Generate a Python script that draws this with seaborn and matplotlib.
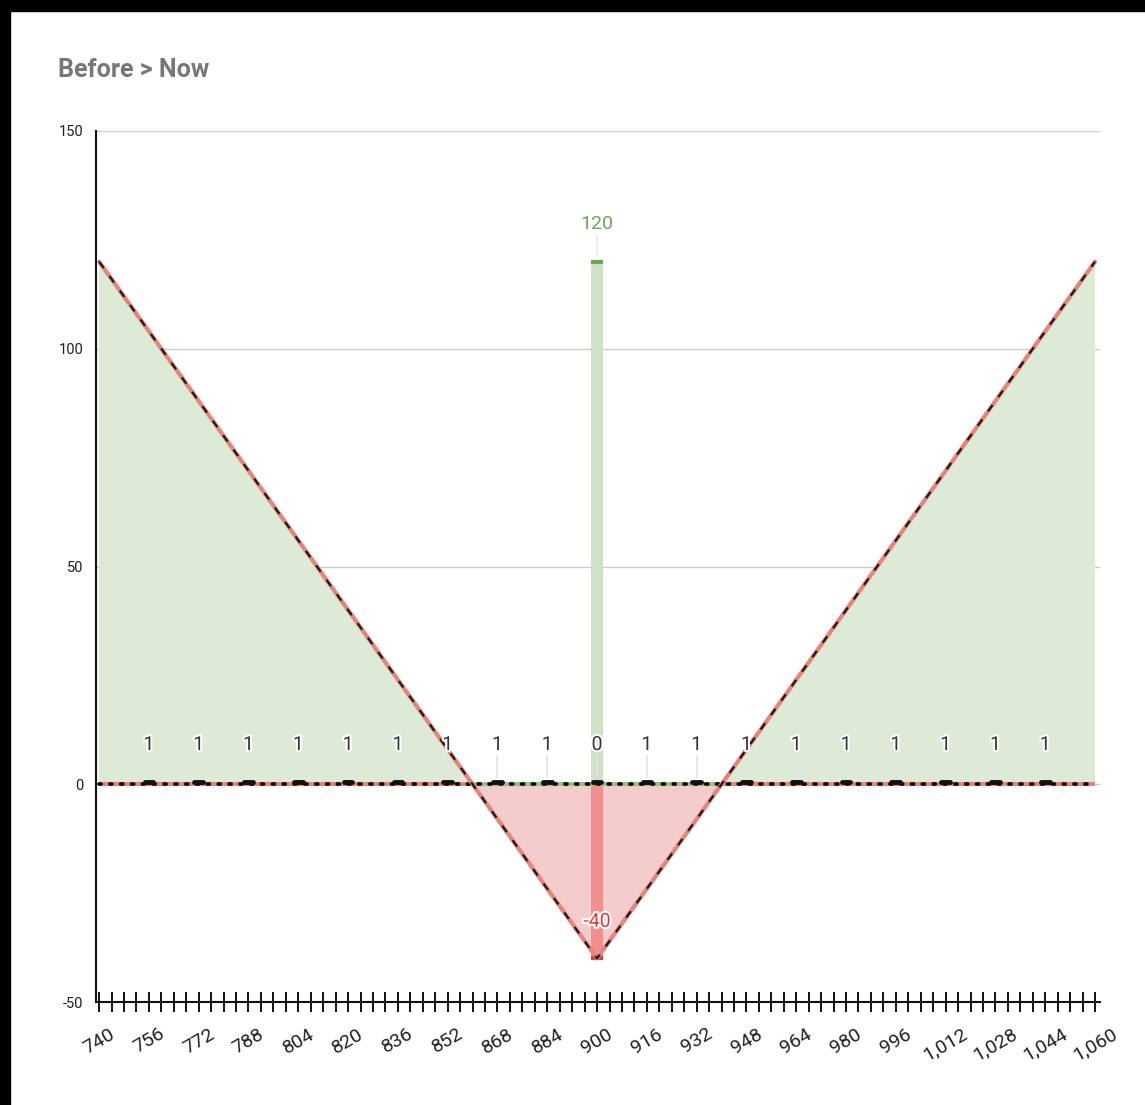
import matplotlib
matplotlib.use("Agg")
import matplotlib.pyplot as plt
import matplotlib.patheffects as pe
from matplotlib.patches import Rectangle
import numpy as np
import seaborn as sns

# payoff at expiry (Before) and current line (Now)
price = [740, 900, 1060]
payoff = [120, -40, 120]
now_price = [740, 860, 940, 1060]
now_value = [0, 0, 0, 0]

# per-strike counts shown as small markers
strikes = [756, 772, 788, 804, 820, 836, 852, 868, 884, 900,
           916, 932, 948, 964, 980, 996, 1012, 1028, 1044]
counts = [1, 1, 1, 1, 1, 1, 1, 1, 1, 0, 1, 1, 1, 1, 1, 1, 1, 1, 1]

# max profit / max loss bars at the strike
bar_x = 900
bar_max = 120
bar_min = -40

x_ticks = list(range(740, 1061, 4))
x_labels = [f"{v:,}" if (v - 740) % 16 == 0 else "" for v in x_ticks]
y_ticks = [-50, 0, 50, 100, 150]

sns.set_theme(style="white")
plt.rcParams['font.family'] = ['Roboto', 'DejaVu Sans']

W, H = 1145, 1105
fig = plt.figure(figsize=(W / 100, H / 100), dpi=100)
fig.patch.set_facecolor("white")
# black frame on the left and top edge
fig.add_artist(Rectangle((0, 0), 10 / W, 1, transform=fig.transFigure, color="black", zorder=10))
fig.add_artist(Rectangle((0, 1 - 11 / H), 1, 11 / H, transform=fig.transFigure, color="black", zorder=10))

ax = fig.add_axes([96 / W, 1 - 1002 / H, (1100 - 96) / W, (1002 - 131) / H])
ax.set_xlim(739, 1061.6)
ax.set_ylim(-50, 150)

# grid
for v in y_ticks[1:]:
    ax.axhline(v, color="#cccccc", lw=1, zorder=0)

px = np.array(price, dtype=float)
py = np.array(payoff, dtype=float)
ax.fill_between(px, py, 0, where=py >= 0, interpolate=True, color="#dcead6", lw=0, zorder=1)
ax.fill_between(px, py, 0, where=py <= 0, interpolate=True, color="#f4cccc", lw=0, zorder=1)

# strike bars
ax.bar(bar_x, bar_max, width=4, color="#cfe2c6", lw=0, zorder=2)
ax.bar(bar_x, bar_min, width=4, color="#f28e8e", lw=0, zorder=2)
ax.hlines(bar_max, bar_x - 2, bar_x + 2, color="#6aa84f", lw=3, zorder=3)
ax.hlines(bar_min, bar_x - 2, bar_x + 2, color="#e53935", lw=3, zorder=3)
ax.vlines(bar_x, bar_max + 1, bar_max + 6, color="#eeeeee", lw=1.5, zorder=2)
halo = [pe.withStroke(linewidth=3, foreground="white")]
ax.text(bar_x, bar_max + 6.5, f"{bar_max}", color="#6aa84f", fontsize=14,
        ha="center", va="bottom", zorder=6)
ax.text(bar_x, bar_min + 8.4, f"{bar_min}", color="#e53935", fontsize=14,
        ha="center", va="center", zorder=6, path_effects=halo)

# Now line at zero: red outside break-evens, green between, dotted black on top
for i in range(len(now_price) - 1):
    c = "#93c47d" if i == 1 else "#e8837a"
    ax.plot(now_price[i:i + 2], now_value[i:i + 2], color=c, lw=3, zorder=3,
            solid_capstyle="butt")
ax.plot(now_price, now_value, color="black", lw=2.6, ls=(0, (0.6, 2.4)),
        dash_capstyle="round", zorder=4)

# Before (payoff) line
sns.lineplot(x=price, y=payoff, ax=ax, color="#e8837a", lw=3, zorder=4)
ax.plot(price, payoff, color="#1a1a1a", lw=1.6, ls=(0, (3.5, 4.5)), zorder=5)

# count markers
for s, c in zip(strikes, counts):
    ax.vlines(s, 1.5, 6.8, color="#e3e3e3", lw=1.2, zorder=2)
    ax.plot([s - 1.4, s + 1.4], [0.6, 0.6], color="#111111", lw=3.5,
            solid_capstyle="round", zorder=5)
    ax.text(s, 9, str(c), color="#333333", fontsize=14, ha="center", va="center",
            zorder=6, path_effects=halo)

# axes styling
ax.set_xticks(x_ticks)
ax.set_xticklabels(x_labels, rotation=30, ha="center", fontsize=14, color="#222222")
ax.tick_params(axis="x", bottom=True, direction="inout", length=15, width=1.4,
               color="#111111", pad=9)
ax.set_yticks(y_ticks)
ax.set_yticklabels([str(v) for v in y_ticks], fontsize=10.5, color="#222222")
ax.tick_params(axis="y", length=0, pad=9)
for side in ["top", "right"]:
    ax.spines[side].set_visible(False)
for side in ["left", "bottom"]:
    ax.spines[side].set_color("#111111")
    ax.spines[side].set_linewidth(1.5)
ax.set_facecolor("none")
ax.grid(False)

fig.text(58 / W, 1 - 70 / H, "Before > Now", fontsize=18, fontweight="bold",
         color="#777777", ha="left", va="center")

fig.savefig("out.png", dpi=100, facecolor="white")
